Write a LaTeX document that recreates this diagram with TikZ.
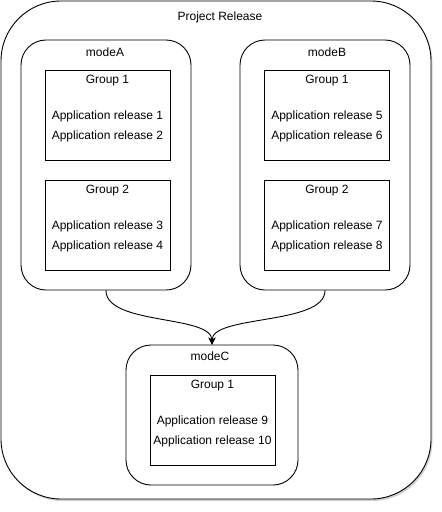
\documentclass[tikz,border=0pt]{standalone}
\usepackage{fontspec}
\setmainfont{Liberation Sans}
\usetikzlibrary{arrows.meta,shadows}

\begin{document}
\begin{tikzpicture}[x=1pt,y=-1pt,
  lbl/.style={inner sep=0pt,font=\fontsize{12}{20}\selectfont,align=center},
  mode/.style={draw,line width=0.9pt,rounded corners=25pt,minimum width=170pt,minimum height=250pt},
  grp/.style={draw,line width=0.9pt,minimum width=125pt,minimum height=90pt},
  flow/.style={line width=0.9pt,-{Stealth[length=7pt,width=7pt]}}]
\useasboundingbox (0,0) rectangle (442,512);
\node[draw,line width=0.9pt,rounded corners=60pt,minimum width=430pt,minimum height=498pt,fill=white,
  drop shadow={shadow xshift=1.5pt,shadow yshift=-2pt,fill=black,opacity=0.18}] (P) at (216,250) {};
\node[lbl] (tP) at (220,17) {Project Release};

\node[mode] (mA) at (106,165) {};
\node[lbl] (tA) at (105,52) {modeA};
\node[grp] (gA1) at (107.5,115) {};
\node[lbl] (tA1) at (107.5,81) {Group 1};
\node[lbl] (rA1) at (107.5,126) {Application release 1\\Application release 2};
\node[grp] (gA2) at (107.5,225) {};
\node[lbl] (tA2) at (107.5,191) {Group 2};
\node[lbl] (rA2) at (107.5,236) {Application release 3\\Application release 4};

\node[mode] (mB) at (325,165) {};
\node[lbl] (tB) at (327,52) {modeB};
\node[grp] (gB1) at (327,115) {};
\node[lbl] (tB1) at (327,81) {Group 1};
\node[lbl] (rB1) at (327,126) {Application release 5\\Application release 6};
\node[grp] (gB2) at (327,225) {};
\node[lbl] (tB2) at (327,191) {Group 2};
\node[lbl] (rB2) at (327,236) {Application release 7\\Application release 8};

\node[mode,minimum width=172pt,minimum height=140pt] (mC) at (212,415) {};
\node[lbl] (tC) at (210,356) {modeC};
\node[grp] (gC1) at (212.5,420) {};
\node[lbl] (tC1) at (212.5,386) {Group 1};
\node[lbl] (rC1) at (212.5,431) {Application release 9\\Application release 10};

\draw[flow] (mA.south) .. controls +(0,35) and +(0,-30) .. (mC.north);
\draw[flow] (mB.south) .. controls +(0,35) and +(0,-30) .. (mC.north);
\end{tikzpicture}
\end{document}
